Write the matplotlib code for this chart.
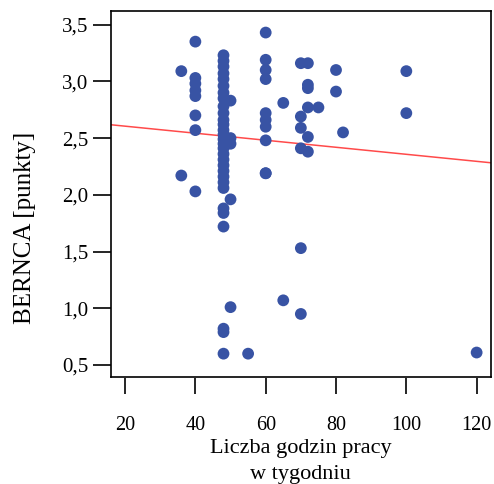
import matplotlib
matplotlib.use('Agg')
import matplotlib.pyplot as plt
from matplotlib.ticker import FuncFormatter

# hours of work per week vs BERNCA score
hours_36 = [36, 36]
score_36 = [3.09, 2.17]
hours_40 = [40] * 8
score_40 = [3.35, 3.03, 2.98, 2.92, 2.87, 2.70, 2.57, 2.03]
hours_48 = [48] * 30
score_48 = [3.23, 3.18, 3.13, 3.07, 3.02, 2.96, 2.90, 2.85, 2.78, 2.72,
            2.66, 2.62, 2.57, 2.53, 2.49, 2.45, 2.41, 2.36, 2.31, 2.26,
            2.21, 2.16, 2.11, 2.06, 1.88, 1.84, 1.72, 0.82, 0.79, 0.60]
hours_50 = [50] * 5
score_50 = [2.83, 2.50, 2.45, 1.96, 1.01]
hours_60 = [60] * 10
score_60 = [3.43, 3.19, 3.10, 3.02, 2.72, 2.66, 2.60, 2.48, 2.19, 2.19]
hours_other = [55, 65, 65, 70, 72, 72, 72, 72, 75, 70, 70, 72, 70, 72,
               70, 70, 80, 80, 82, 100, 100, 120]
score_other = [0.60, 2.81, 1.07, 3.16, 3.16, 2.97, 2.94, 2.77, 2.77, 2.69,
               2.59, 2.51, 2.41, 2.38, 1.53, 0.95, 3.10, 2.91, 2.55, 3.09,
               2.72, 0.61]

hours = hours_36 + hours_40 + hours_48 + hours_50 + hours_60 + hours_other
score = score_36 + score_40 + score_48 + score_50 + score_60 + score_other

# fitted regression line
fit_intercept = 2.667
fit_slope = -0.0031

x_ticks = [20, 40, 60, 80, 100, 120]
y_ticks = [0.5, 1.0, 1.5, 2.0, 2.5, 3.0, 3.5]

plt.rcParams['font.family'] = 'Liberation Serif'

fig = plt.figure(figsize=(4.94, 4.84), dpi=100)
ax = fig.add_axes([111 / 494, 1 - 376.7 / 484, 379.7 / 494, 365.7 / 484])

ax.scatter(hours, score, s=72, color='#3853A4', edgecolors='none', zorder=3)
ax.axline((0, fit_intercept), slope=fit_slope, color='#FF4A4A', linewidth=1.1, zorder=2)

ax.set_xlim(16, 124)
ax.set_ylim(0.397, 3.62)

ax.set_yticks(y_ticks)
ax.yaxis.set_major_formatter(FuncFormatter(lambda v, p: f'{v:.1f}'.replace('.', ',')))
ax.tick_params(axis='y', direction='out', length=13, width=1.2, pad=3.5, labelsize=15)

# x ticks sit slightly below the frame
ax.set_xticks([])
sec = ax.secondary_xaxis(-0.004)
sec.set_xticks(x_ticks)
sec.spines['bottom'].set_visible(False)
sec.tick_params(axis='x', direction='out', length=11.5, width=1.2, pad=15.5, labelsize=14.5)

for sp in ax.spines.values():
    sp.set_linewidth(1.2)

fig.text(0.5 * (111 + 490.7) / 494, 1 - 448 / 484, 'Liczba godzin pracy',
         ha='center', va='center', fontsize=16)
fig.text(0.5 * (111 + 490.7) / 494, 1 - 475 / 484, 'w tygodniu',
         ha='center', va='center', fontsize=16)
fig.text(25 / 494, 1 - 228 / 484, 'BERNCA [punkty]', rotation=90,
         ha='center', va='center', fontsize=18)

plt.savefig('out.png', dpi=100)
